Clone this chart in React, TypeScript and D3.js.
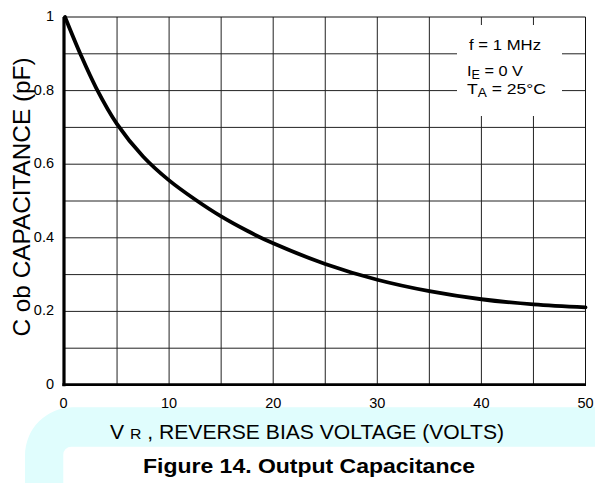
import React from "react";
import * as d3 from "d3";

const voltage = [0, 1.5, 3, 5, 7.5, 10, 12.5, 15, 17.5, 20, 25, 30, 35, 40, 45, 50];
const capacitance = [1.0, 0.898, 0.807, 0.709, 0.621, 0.556, 0.504, 0.458, 0.419, 0.385, 0.329, 0.286, 0.255, 0.233, 0.219, 0.211];
const xTicks = [0, 10, 20, 30, 40, 50];
const xGrid = [5, 10, 15, 20, 25, 30, 35, 40, 45];
const yTicks = [0, 0.2, 0.4, 0.6, 0.8, 1];
const yTickLabels = ["0", "0.2", "0.4", "0.6", "0.8", "1"];
const yGrid = [0.1, 0.2, 0.3, 0.4, 0.5, 0.6, 0.7, 0.8, 0.9];

const W = 595;
const H = 483;
const FONT = "'Liberation Sans', Arial, Helvetica, sans-serif";

export default function App() {
  const x = d3.scaleLinear().domain([0, 50]).range([65, 585.5]);
  const y = d3.scaleLinear().domain([0, 1]).range([385, 17]);
  const pts: [number, number][] = voltage.map((v, i) => [v, capacitance[i]]);
  const line = d3
    .line<[number, number]>()
    .x((d) => x(d[0]))
    .y((d) => y(d[1]))
    .curve(d3.curveCatmullRom.alpha(0.5));

  const bandTop = 407.3;
  const bandBot = 446.7;
  const outerX = 25;
  const innerX = 63.3;
  const R = 48;
  const r = 8;
  const band = [
    `M${outerX},${H}`,
    `L${outerX},${bandTop + R}`,
    `A${R},${R} 0 0 1 ${outerX + R},${bandTop}`,
    `L${W},${bandTop}`,
    `L${W},${bandBot}`,
    `L${innerX + r},${bandBot}`,
    `A${r},${r} 0 0 0 ${innerX},${bandBot + r}`,
    `L${innerX},${H}`,
    "Z",
  ].join(" ");

  return (
    <svg
      width={W}
      height={H}
      style={{ position: "absolute", left: 0, top: 0, background: "#fff" }}
      fontFamily={FONT}
    >
      <rect x={0} y={0} width={W} height={H} fill="#fff" />
      <path d={band} fill="#e0fdfd" />

      {/* grid */}
      {xGrid.map((v) => (
        <line key={"gx" + v} x1={x(v)} x2={x(v)} y1={y(1)} y2={y(0)} stroke="#222" strokeWidth={1} />
      ))}
      {yGrid.map((v) => (
        <line key={"gy" + v} x1={x(0)} x2={x(50)} y1={y(v)} y2={y(v)} stroke="#222" strokeWidth={1} />
      ))}
      {/* frame top/right */}
      <line x1={x(0)} x2={x(50)} y1={y(1)} y2={y(1)} stroke="#111" strokeWidth={1} />
      <line x1={x(50)} x2={x(50)} y1={y(1)} y2={y(0)} stroke="#111" strokeWidth={1} />

      {/* legend mask */}
      <rect x={457} y={25} width={105} height={91} fill="#fff" />
      <g fontSize={15.5} fill="#000">
        <text x={469} y={49.5} textLength={72} lengthAdjust="spacingAndGlyphs">f = 1 MHz</text>
        <text x={467} y={76} textLength={56} lengthAdjust="spacingAndGlyphs">
          I<tspan fontSize={12} dy={3}>E</tspan>
          <tspan dy={-3}> = 0 V</tspan>
        </text>
        <text x={467} y={94.3} textLength={79} lengthAdjust="spacingAndGlyphs">
          T<tspan fontSize={12} dy={3}>A</tspan>
          <tspan dy={-3}> = 25°C</tspan>
        </text>
      </g>

      {/* axes */}
      <line x1={64} x2={64} y1={y(1)} y2={y(0) + 1.3} stroke="#000" strokeWidth={3.2} />
      <line x1={62.4} x2={x(50) + 0.5} y1={384.7} y2={384.7} stroke="#000" strokeWidth={2.8} />

      {/* curve */}
      <path d={line(pts) || ""} fill="none" stroke="#000" strokeWidth={3.8} strokeLinecap="round" />

      {/* y tick labels */}
      {yTicks.map((v, i) => (
        <text key={"yt" + v} x={54} y={y(v) + 4} fontSize={14.5} textAnchor="end" fill="#000">
          {yTickLabels[i]}
        </text>
      ))}
      {/* x tick labels */}
      {xTicks.map((v) => (
        <text key={"xt" + v} x={x(v) - (v === 0 ? 1.5 : 0)} y={408} fontSize={14.5} textAnchor="middle" fill="#000">
          {v}
        </text>
      ))}

      {/* y axis title */}
      <text
        transform={`translate(30,197) rotate(-90)`}
        textAnchor="middle"
        fontSize={24}
        fill="#000"
        textLength={279}
        lengthAdjust="spacingAndGlyphs"
      >
        C ob CAPACITANCE (pF)
      </text>

      {/* x axis title */}
      <text x={110} y={439.3} fontSize={20} fill="#000" textLength={394} lengthAdjust="spacingAndGlyphs">
        V <tspan fontSize={15}>R</tspan> , REVERSE BIAS VOLTAGE (VOLTS)
      </text>

      {/* figure caption */}
      <text
        x={143}
        y={473.3}
        fontSize={21}
        fontWeight="bold"
        fill="#000"
        textLength={332}
        lengthAdjust="spacingAndGlyphs"
      >
        Figure 14. Output Capacitance
      </text>
    </svg>
  );
}
